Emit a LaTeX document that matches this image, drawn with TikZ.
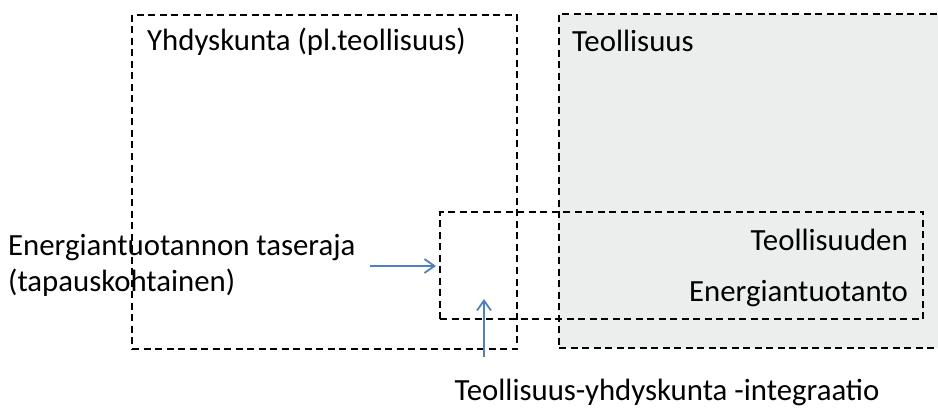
\documentclass[tikz,border=0pt]{standalone}
\usepackage{fontspec}
\setmainfont{Carlito}
\usetikzlibrary{arrows.meta, positioning}

\definecolor{arrowblue}{RGB}{79,129,189}
\definecolor{zonegrey}{RGB}{236,237,237}

\begin{document}
\begin{tikzpicture}
        [
            x=1pt, y=-1pt,
            zone/.style={draw, dash pattern=on 7pt off 4.5pt, line width=2pt, inner sep=0pt, anchor=north west},
            txt/.style={inner sep=0pt, font=\fontsize{30.8}{36}\selectfont},
            pointer/.style={draw=arrowblue, line width=1.8pt, -{Straight Barb[length=10pt,width=14pt,line width=1.8pt]}},
        ]
        \useasboundingbox (0,0) rectangle (938,409);
        % the two areas and the overlap between them
        \node[zone, fill=zonegrey, minimum width=390pt, minimum height=334pt] (ind) at (558,13) {};
        \node[zone, minimum width=385pt, minimum height=334pt] (com) at (131,14) {};
        \node[zone, minimum width=483pt, minimum height=107pt] (integ) at (439,211) {};
        % titles
        \node[txt, anchor=west] (comtitle) at (147,42) {Yhdyskunta (pl.teollisuus)};
        \node[txt, anchor=west] (indtitle) at (572,41) {Teollisuus};
        \node[txt, anchor=east] (prod1) at (908,240) {Teollisuuden};
        \node[txt, anchor=east] (prod2) at (908,294) {Energiantuotanto};
        % side labels
        \node[txt, anchor=west, align=left] (limit) at (8,265) {Energiantuotannon taseraja\\(tapauskohtainen)};
        \node[txt] (integlabel) at (667,392) {Teollisuus-yhdyskunta -integraatio};
        % arrows
        \coordinate (limfrom) at (370,266);
        \coordinate (intfrom) at (484,357);
        \coordinate (intto) at (484,299);
        \draw[pointer] (limfrom) -- ([xshift=-3pt]integ.west |- limfrom);
        \draw[pointer] (intfrom) -- (intto);
\end{tikzpicture}
\end{document}
